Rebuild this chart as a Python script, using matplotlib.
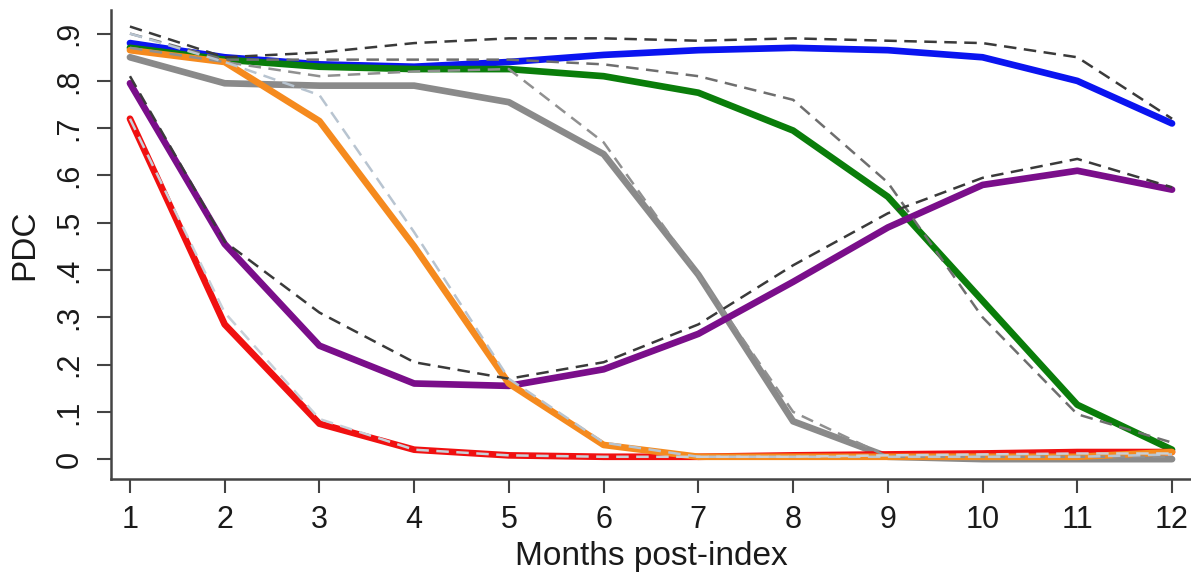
import matplotlib
matplotlib.use('Agg')
import matplotlib.pyplot as plt
import numpy as np

plt.rcParams['font.family'] = ['Liberation Sans Narrow', 'Liberation Sans', 'DejaVu Sans']

months = list(range(1, 13))

# solid trajectories
blue = [0.88, 0.85, 0.835, 0.83, 0.84, 0.855, 0.865, 0.87, 0.865, 0.85, 0.80, 0.71]
green = [0.87, 0.845, 0.83, 0.825, 0.825, 0.81, 0.775, 0.695, 0.555, 0.335, 0.115, 0.02]
grey = [0.85, 0.795, 0.79, 0.79, 0.755, 0.645, 0.39, 0.08, 0.005, 0.0, 0.0, 0.0]
orange = [0.865, 0.84, 0.715, 0.45, 0.16, 0.03, 0.005, 0.005, 0.005, 0.005, 0.005, 0.015]
purple = [0.795, 0.455, 0.24, 0.16, 0.155, 0.19, 0.265, 0.375, 0.49, 0.58, 0.61, 0.57]
red = [0.72, 0.285, 0.075, 0.02, 0.008, 0.005, 0.005, 0.008, 0.01, 0.012, 0.015, 0.015]

# dashed (observed) trajectories
blue_obs = [0.915, 0.85, 0.86, 0.88, 0.89, 0.89, 0.885, 0.89, 0.885, 0.88, 0.85, 0.72]
green_obs = [0.90, 0.845, 0.845, 0.845, 0.845, 0.835, 0.81, 0.76, 0.585, 0.30, 0.095, 0.035]
grey_obs = [0.87, 0.84, 0.81, 0.82, 0.825, 0.67, 0.39, 0.10, 0.005, 0.005, 0.005, 0.005]
orange_obs = [0.90, 0.84, 0.77, 0.48, 0.17, 0.035, 0.005, 0.005, 0.005, 0.005, 0.005, 0.01]
purple_obs = [0.81, 0.46, 0.31, 0.205, 0.17, 0.205, 0.285, 0.41, 0.52, 0.595, 0.635, 0.575]
red_obs = [0.72, 0.31, 0.085, 0.02, 0.008, 0.005, 0.005, 0.005, 0.008, 0.01, 0.012, 0.012]

fig = plt.figure(figsize=(11.91, 5.74), dpi=100)
ax = fig.add_axes([0.0932, 0.1655, 0.9068, 0.8171])

ax.plot(months, blue, color='#0a14f0', lw=4.8, solid_capstyle='round', zorder=3)
ax.plot(months, green, color='#0a7d0a', lw=4.8, solid_capstyle='round', zorder=3)
ax.plot(months, grey, color='#8a8a8a', lw=4.8, solid_capstyle='round', zorder=3)
ax.plot(months, purple, color='#7a0e8a', lw=4.8, solid_capstyle='round', zorder=3)
ax.plot(months, red, color='#f01010', lw=4.8, solid_capstyle='round', zorder=3)
ax.plot(months, orange, color='#f58a1e', lw=4.8, solid_capstyle='round', zorder=3)

dash = (0, (5, 3))
ax.plot(months, blue_obs, color='#3a3a3a', lw=1.8, ls=dash, zorder=4)
ax.plot(months, green_obs, color='#6e6e6e', lw=1.8, ls=dash, zorder=4)
ax.plot(months, grey_obs, color='#909090', lw=1.8, ls=dash, zorder=4)
ax.plot(months, purple_obs, color='#3a3a3a', lw=1.8, ls=dash, zorder=4)
ax.plot(months, orange_obs, color='#b8c4d0', lw=1.8, ls=dash, zorder=4)
ax.plot(months, red_obs, color='#c8d0d8', lw=1.8, ls=dash, zorder=4)

ax.set_xlim(0.8, 12.2)
ax.set_ylim(-0.042, 0.95)

yt = [0, 0.1, 0.2, 0.3, 0.4, 0.5, 0.6, 0.7, 0.8, 0.9]
ax.set_yticks(yt)
ax.set_yticklabels(['0', '.1', '.2', '.3', '.4', '.5', '.6', '.7', '.8', '.9'],
                   rotation=90, va='center', fontsize=22, color='#1a1a1a')
ax.set_xticks(months)
ax.set_xticklabels([str(m) for m in months], fontsize=22, color='#1a1a1a')

ax.tick_params(axis='both', length=10, width=1.5, color='#444444', pad=9)
for s in ['top', 'right']:
    ax.spines[s].set_visible(False)
for s in ['left', 'bottom']:
    ax.spines[s].set_color('#444444')
    ax.spines[s].set_linewidth(1.8)

ax.set_ylabel('PDC', fontsize=24, color='#1a1a1a', labelpad=10)
ax.set_xlabel('Months post-index', fontsize=24, color='#1a1a1a', labelpad=4)

fig.savefig('out.png', dpi=100, facecolor='white')
